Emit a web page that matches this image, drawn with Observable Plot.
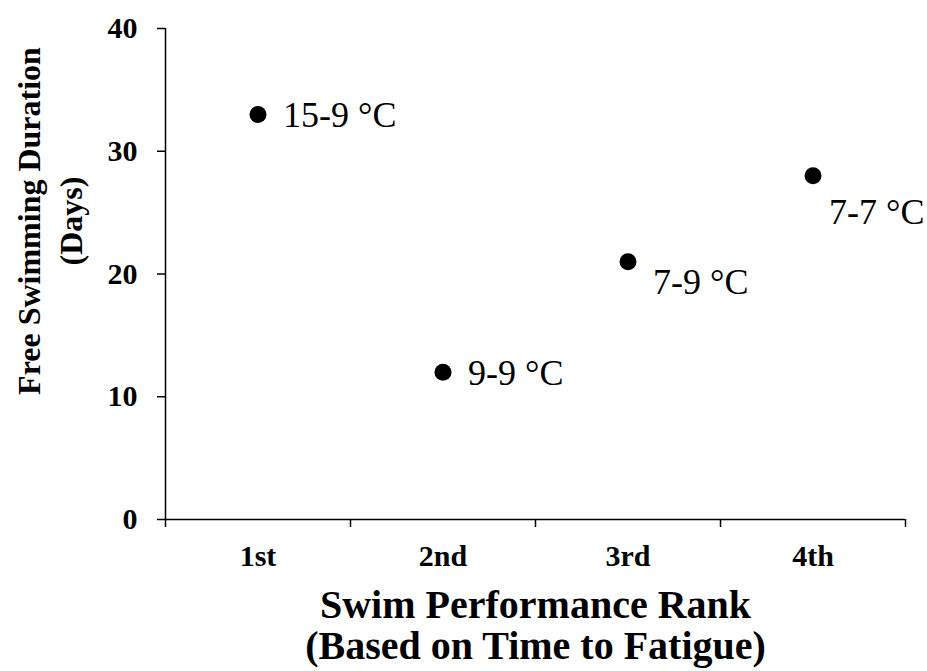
<!DOCTYPE html>
<html><head><meta charset="utf-8">
<script src="https://cdn.jsdelivr.net/npm/d3@7"></script>
<script src="https://cdn.jsdelivr.net/npm/@observablehq/plot@0.6"></script>
<style>body{margin:0;background:#fff}</style>
</head><body><div id="chart"></div>
<script>
const ranks = ["1st", "2nd", "3rd", "4th"];
const durations = [33, 12, 21, 28];
const treatments = ["15-9 °C", "9-9 °C", "7-9 °C", "7-7 °C"];
const yTicks = [0, 10, 20, 30, 40];
const yTitle = "Free Swimming Duration\n(Days)";
const xTitle = "Swim Performance Rank\n(Based on Time to Fatigue)";

const data = ranks.map((r, i) => ({rank: r, pos: i + 0.5, days: durations[i], label: treatments[i]}));
const labelOffsets = [[25, 1], [25, 1], [25, 21], [16, 37]];
const FONT = "'Liberation Serif','Times New Roman',Times,serif";

const chart = Plot.plot({
  width: 927, height: 671,
  marginLeft: 165, marginRight: 22, marginTop: 28, marginBottom: 152,
  style: {fontFamily: FONT, background: "white", color: "black"},
  x: {type: "linear", domain: [0, ranks.length]},
  y: {domain: [0, 40]},
  marks: [
    Plot.ruleY([0], {stroke: "black", strokeWidth: 1.5}),
    Plot.ruleX([0], {stroke: "black", strokeWidth: 1.5}),
    Plot.axisY({ticks: yTicks, tickSize: 8, tickPadding: 20, fontSize: 30, fontWeight: "bold", label: null, strokeWidth: 1.5}),
    Plot.axisX({ticks: d3.range(ranks.length + 1), tickSize: 8, tickFormat: () => "", label: null, strokeWidth: 1.5}),
    Plot.axisX({ticks: data.map(d => d.pos), tickSize: 0, tickPadding: 25, tickFormat: v => ranks[Math.floor(v)], fontSize: 30, fontWeight: "bold", label: null}),
    Plot.dot(data, {x: "pos", y: "days", r: 8.5, fill: "black"}),
    ...data.map((d, i) => Plot.text([d], {x: "pos", y: "days", text: "label", textAnchor: "start", dx: labelOffsets[i][0], dy: labelOffsets[i][1], fontSize: 36, fill: "black"})),
    Plot.text([yTitle], {frameAnchor: "left", textAnchor: "middle", lineAnchor: "middle", rotate: -90, dx: -118, dy: -53, fontSize: 32, fontWeight: "bold", lineHeight: 1.3, fill: "black"}),
    Plot.text([xTitle], {frameAnchor: "bottom", textAnchor: "middle", lineAnchor: "top", dy: 70, fontSize: 40, fontWeight: "bold", lineHeight: 1.02, fill: "black"})
  ]
});
document.getElementById("chart").appendChild(chart);
</script>
</body></html>
